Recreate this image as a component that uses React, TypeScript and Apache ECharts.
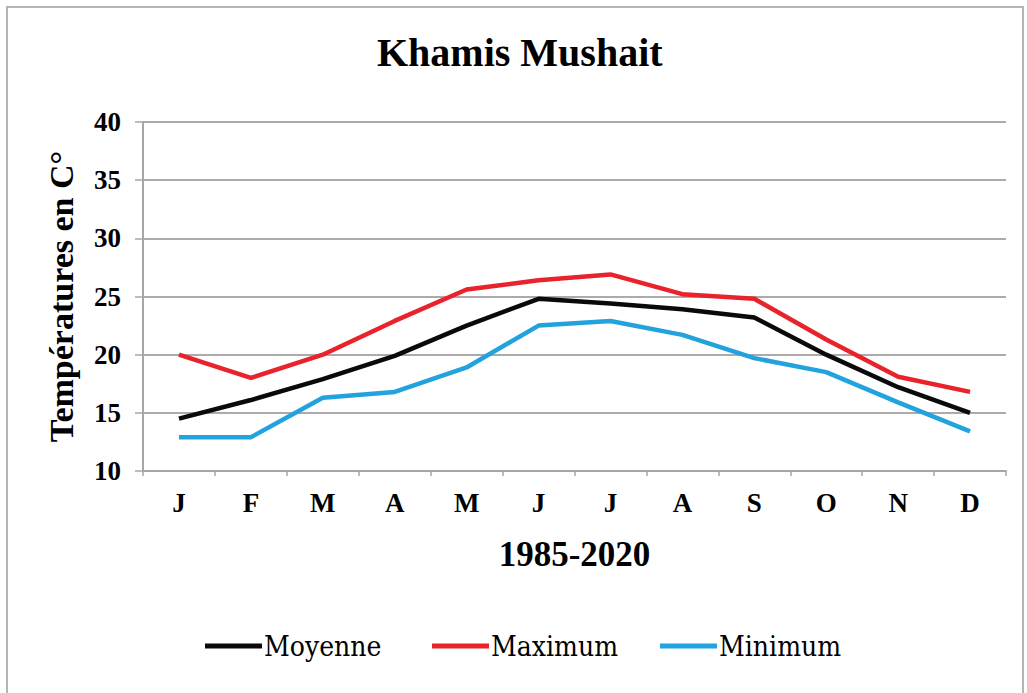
import React, { useEffect, useRef } from "react";
import * as echarts from "echarts";

const months = ["J", "F", "M", "A", "M", "J", "J", "A", "S", "O", "N", "D"];
const moyenne = [14.5, 16.1, 17.9, 19.9, 22.5, 24.8, 24.4, 23.9, 23.2, 20.0, 17.2, 15.0];
const maximum = [20.0, 18.0, 20.0, 22.9, 25.6, 26.4, 26.9, 25.2, 24.8, 21.3, 18.1, 16.8];
const minimum = [12.9, 12.9, 16.3, 16.8, 18.9, 22.5, 22.9, 21.7, 19.7, 18.5, 15.9, 13.4];
const seriesNames = ["Moyenne", "Maximum", "Minimum"];
const seriesColors = ["#0a0a0a", "#e8232b", "#22a3dd"];
const legendStartX = [205, 432, 660];

const FONT = "Liberation Serif";

export default function App() {
  const ref = useRef<HTMLDivElement>(null);
  useEffect(() => {
    document.body.style.margin = "0";
    const chart = echarts.init(ref.current!, null, { renderer: "svg" });
    const datas = [moyenne, maximum, minimum];
    const legendY = 646;
    const legendGraphics: any[] = [];
    seriesNames.forEach((n, i) => {
      const x0 = legendStartX[i];
      legendGraphics.push({
        type: "line",
        shape: { x1: x0, y1: legendY, x2: x0 + 57, y2: legendY },
        style: { stroke: seriesColors[i], lineWidth: 5 },
        silent: true,
      });
      legendGraphics.push({
        type: "text",
        x: x0 + 59,
        y: legendY,
        scaleX: 0.9,
        originX: 0,
        originY: 0,
        style: {
          text: n,
          fontFamily: "DejaVu Serif",
          fontSize: 28,
          fill: "#000",
          verticalAlign: "middle",
          align: "left",
        },
        silent: true,
      });
    });
    chart.setOption({
      animation: false,
      backgroundColor: "#ffffff",
      textStyle: { fontFamily: FONT },
      title: {
        text: "Khamis Mushait",
        left: 377,
        top: 32,
        padding: 0,
        textStyle: { fontFamily: FONT, fontSize: 40, fontWeight: "bold", color: "#000" },
      },
      legend: { show: false, data: seriesNames },
      graphic: [
        {
          type: "rect",
          shape: { x: 7, y: 7, width: 1016, height: 700 },
          style: { fill: "none", stroke: "#b5b5b5", lineWidth: 2 },
          silent: true,
        },
        ...legendGraphics,
      ],
      grid: { left: 143, right: 21, top: 122, bottom: 222, containLabel: false },
      xAxis: {
        type: "category",
        data: months,
        boundaryGap: true,
        name: "1985-2020",
        nameLocation: "middle",
        nameGap: 66,
        nameTextStyle: { fontFamily: FONT, fontSize: 35, fontWeight: "bold", color: "#000" },
        axisLine: { lineStyle: { color: "#a6a6a6", width: 2 } },
        axisTick: { show: true, length: 5, lineStyle: { color: "#a6a6a6", width: 1.5 } },
        axisLabel: { fontFamily: FONT, fontSize: 27, fontWeight: "bold", color: "#000", margin: 18 },
      },
      yAxis: {
        type: "value",
        min: 10,
        max: 40,
        interval: 5,
        name: "Températures en C°",
        nameLocation: "middle",
        nameRotate: 90,
        nameGap: 65,
        nameTextStyle: { fontFamily: FONT, fontSize: 34, fontWeight: "bold", color: "#000" },
        axisLine: { show: true, lineStyle: { color: "#a6a6a6", width: 2 } },
        axisTick: { show: true, length: 8, lineStyle: { color: "#a6a6a6", width: 1.5 } },
        axisLabel: { fontFamily: FONT, fontSize: 27, fontWeight: "bold", color: "#000", margin: 22 },
        splitLine: { lineStyle: { color: "#ababab", width: 2 } },
      },
      series: seriesNames.map((n, i) => ({
        name: n,
        type: "line",
        data: datas[i],
        symbol: "none",
        color: seriesColors[i],
        lineStyle: { color: seriesColors[i], width: 4.5 },
        itemStyle: { color: seriesColors[i] },
        z: 3 - i,
      })),
    });
    return () => chart.dispose();
  }, []);
  return <div ref={ref} style={{ width: 1027, height: 693 }} />;
}
